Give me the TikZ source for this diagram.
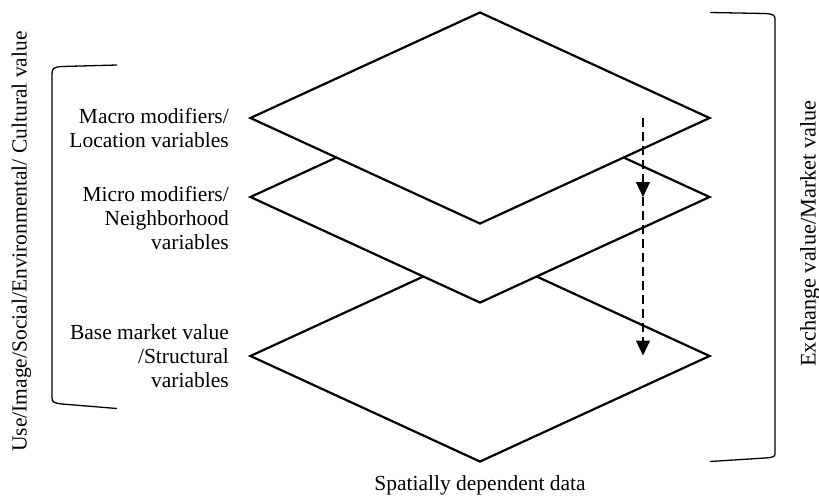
\documentclass[tikz,border=0pt]{standalone}
\usepackage{fontspec}
\setmainfont{Liberation Serif}
\usetikzlibrary{shapes.geometric,arrows.meta}
\begin{document}
\begin{tikzpicture}[x=1pt,y=-1pt,
  layer/.style={diamond,draw=black,fill=white,line width=2.2pt,
    minimum width=460pt,minimum height=212pt,inner sep=0pt},
  lbl/.style={font=\fontsize{21.5}{24}\selectfont,align=right,
    anchor=north east,inner sep=0pt},
  txt/.style={font=\fontsize{21.5}{24}\selectfont,inner sep=0pt},
  brace/.style={draw=black,line width=1.3pt},
  flow/.style={line width=1.2pt,dash pattern=on 9pt off 5pt,
    -{Triangle[length=15pt,width=14pt]}}
]
\useasboundingbox (0,0) rectangle (819,496);

% stacked layers, lowest first
\node[layer] (base) at (480,356) {};
\node[layer] (mid)  at (480,197) {};
\node[layer] (top)  at (480,118) {};

% layer labels
\node[lbl] (macro) at (229,108.5) {Macro modifiers/\\Location variables};
\node[lbl] (micro) at (229,186.3) {Micro modifiers/\\Neighborhood\\variables};
\node[lbl] (basev) at (229,324.6) {Base market value\\/Structural\\variables};

% downward flow through the layers
\coordinate (f0) at (643,118);
\coordinate (f1) at (643,197);
\coordinate (f2) at (643,355.5);
\draw[flow] (f0) -- (f1);
\draw[flow] (f1) -- (f2);

% left bracket
\draw[brace] (117,65) -- (62,66.5) .. controls (54,67) and (52,68) .. (52,74)
  -- (52,398) .. controls (52,402) and (54,403) .. (62,404) -- (117,408.5);
% right bracket
\draw[brace] (710,12.5) -- (765,13.5) .. controls (773,14) and (775,15) .. (775,19)
  -- (775,454) .. controls (775,456.5) and (773,457.5) .. (765,458) -- (710,461.5);

% side and bottom captions
\node[txt,rotate=90,anchor=base] (use) at (26.5,241.5)
  {Use/Image/Social/Environmental/ Cultural value};
\node[txt,font=\fontsize{22.3}{24}\selectfont,rotate=90,anchor=base] (exch)
  at (815.7,233.5) {Exchange value/Market value};
\node[txt,anchor=base] (data) at (480,490.5) {Spatially dependent data};
\end{tikzpicture}
\end{document}
